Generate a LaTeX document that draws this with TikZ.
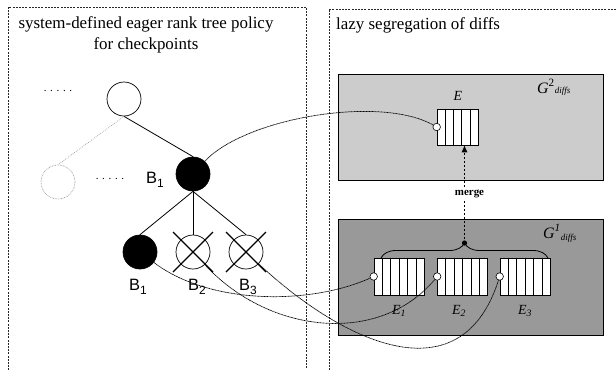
\documentclass[tikz,border=0pt]{standalone}
\usepackage{fontspec}
\setmainfont{Liberation Serif}
\newfontfamily\arialf{Liberation Sans}
\usetikzlibrary{arrows.meta,decorations.pathreplacing,calc}
\newcommand{\bsub}[1]{\raisebox{-4bp}{\fontsize{12}{12}\selectfont #1}}
\begin{document}
\begin{tikzpicture}[x=1bp,y=-1bp,
  panel/.style={draw=black!85, line width=0.6bp, dash pattern=on 2bp off 1.2bp},
  treenode/.style={circle, draw, minimum size=34bp, inner sep=0pt, line width=0.7bp},
  full/.style={treenode, fill=black},
  ghost/.style={treenode, draw=black!40, dash pattern=on 0.7bp off 0.9bp},
  edge/.style={line width=0.8bp},
  ghostedge/.style={draw=black!40, line width=0.7bp, dash pattern=on 0.7bp off 1.2bp},
  crossline/.style={line width=1.2bp},
  link/.style={line width=0.7bp, dash pattern=on 1bp off 0.5bp},
  blab/.style={font=\arialf\fontsize{16.5}{16.5}\selectfont, inner sep=0pt, anchor=base west},
  dots/.style={font=\fontsize{11}{11}\selectfont, inner sep=0pt},
  pin/.style={circle, draw, fill=white, minimum size=7.5bp, inner sep=0pt, line width=0.6bp},
  group/.style={draw, line width=0.8bp, minimum width=265bp, inner sep=0pt},
  queue/.style={draw, fill=white, line width=0.6bp, minimum height=37bp, inner sep=0pt},
  cellline/.style={line width=0.6bp},
  elab/.style={font=\itshape\fontsize{14}{14}\selectfont, inner sep=0pt},
  title/.style={font=\fontsize{17}{21}\selectfont, inner sep=0pt},
]
\useasboundingbox (0,0) rectangle (616,369);
% panels
\draw[panel] (8,380) -- (8,7) -- (306,7) -- (306,380);
\draw[panel] (329,380) -- (329,9) -- (630,9);
\node[title, align=center] (t1) at (146,35) {system-defined eager rank tree policy\\for checkpoints};
\node[title, anchor=west] (t2) at (336,25) {lazy segregation of diffs};
% tree
\node[treenode] (r) at (124,99) {};
\node[full] (b) at (193,174) {};
\node[ghost] (g) at (58,182) {};
\node[dots] (d1) at (58,91) {. . . . .};
\node[dots] (d2) at (110,179) {. . . . .};
\node[blab] (lb) at (146,183) {B\bsub{1}};
\node[full] (c1) at (140,252) {};
\node[treenode] (c2) at (193,252) {};
\node[treenode] (c3) at (246,252) {};
\draw[edge] (r.south) -- (b.north);
\draw[ghostedge] (r.south) -- (g.north);
\draw[edge] (b.south) -- (c1.north);
\draw[edge] (b.south) -- (c2.north);
\draw[edge] (b.south) -- (c3.north);
\draw[crossline] (c2) ++(-20,-20) -- ++(40,40);
\draw[crossline] (c2) ++(20,-20) -- ++(-40,40);
\draw[crossline] (c3) ++(-20,-20) -- ++(40,40);
\draw[crossline] (c3) ++(20,-20) -- ++(-40,40);
\node[blab] (l1) at (129,290) {B\bsub{1}};
\node[blab] (l2) at (188,290) {B\bsub{2}};
\node[blab] (l3) at (239,290) {B\bsub{3}};
% groups
\node[group, fill=black!20, minimum height=106bp] (G2) at (470.5,127) {};
\node[group, fill=black!40, minimum height=116bp] (G1) at (470.5,277) {};
\node[font=\fontsize{16}{16}\selectfont, anchor=base west, inner sep=0pt] (g2l) at (537,93) {\textit{G}\textsuperscript{2}{\fontsize{9}{9}\selectfont\textit{diffs}}};
\node[font=\fontsize{16}{16}\selectfont, anchor=base west, inner sep=0pt] (g1l) at (543,238) {\textit{G}\textsuperscript{\textit{1}}\raisebox{-2bp}{\fontsize{9}{9}\selectfont\textit{diffs}}};
% queues
\node[queue, minimum width=41bp, minimum height=36bp] (E) at (457.5,127) {};
\node[queue, minimum width=50bp] (E1) at (399,276.5) {};
\node[queue, minimum width=50bp] (E2) at (462.5,276.5) {};
\node[queue, minimum width=50bp] (E3) at (525,276.5) {};
\foreach \k in {1,...,4}
  \draw[cellline] ($(E.north west)!\k/5!(E.north east)$) -- ($(E.south west)!\k/5!(E.south east)$);
\foreach \q in {E1,E2,E3}
  \foreach \k in {1,...,5}
    \draw[cellline] ($(\q.north west)!\k/6!(\q.north east)$) -- ($(\q.south west)!\k/6!(\q.south east)$);
\node[elab] (eL) at (458,96) {E};
\node[elab] (e1L) at (399,311) {E\textsubscript{1}};
\node[elab] (e2L) at (459,311) {E\textsubscript{2}};
\node[elab] (e3L) at (525,311) {E\textsubscript{3}};
% brace and merge
\coordinate (bl) at (381,258);
\coordinate (br) at (548,258);
\draw[decorate, decoration={brace, amplitude=15bp}, line width=0.8bp] (bl) -- (br);
\coordinate (bt) at (464.5,243);
\fill (bt) circle (2.6bp);
\draw[line width=0.7bp, dash pattern=on 2.5bp off 1.5bp, -{Latex[length=7bp,width=6bp]}] (bt) -- node[fill=white, font=\bfseries\fontsize{11}{11}\selectfont, inner sep=1.5bp, pos=0.5, xshift=5bp] (mg) {merge} (E.south -| bt);
% pins
\node[pin] (p) at (E.west) {};
\node[pin] (p1) at (E1.west) {};
\node[pin] (p2) at (E2.west) {};
\node[pin] (p3) at (E3.west) {};
% links
\draw[link] (b) .. controls (245,118) and (380,95) .. (p);
\draw[link] (c1) .. controls (210,305) and (310,305) .. (p1);
\draw[link] (c2) .. controls (270,335) and (380,345) .. (p2);
\draw[link] (c3) .. controls (340,340) and (460,400) .. (p3);
\end{tikzpicture}
\end{document}
